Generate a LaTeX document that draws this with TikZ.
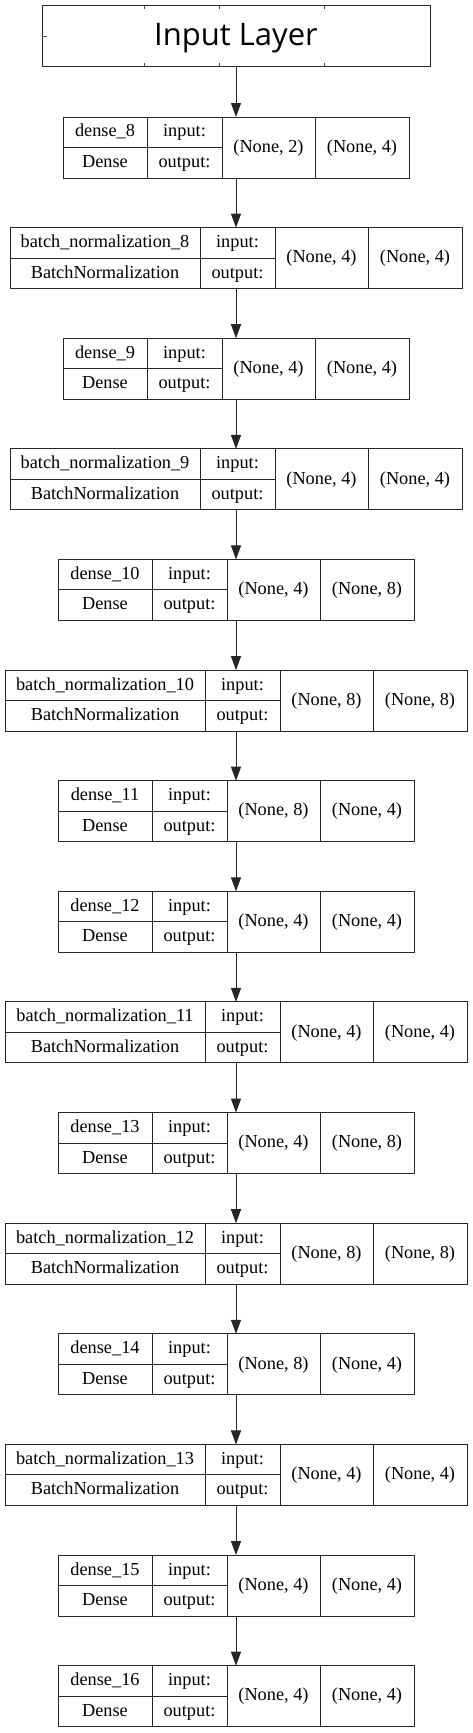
\documentclass[tikz,border=0pt]{standalone}
\usepackage{fontspec}
\setmainfont{Liberation Serif}
\newfontfamily\titlefont{Open Sans}
\usepackage{tikz}
\usetikzlibrary{arrows.meta, positioning}

\begin{document}
\begin{tikzpicture}[
    x=1pt, y=-1pt,
    every node/.style={outer sep=0pt, inner sep=0pt, font=\fontsize{18.3}{20}\selectfont, text height=13pt, text depth=3.6pt},
    layerbox/.style={rectangle, draw=black!85, line width=1pt, minimum height=61pt},
    cellbox/.style={rectangle, draw=black!85, line width=1pt, minimum height=30.5pt},
    shapebox/.style={rectangle, draw=black!85, line width=1pt, minimum height=61pt},
    tickline/.style={draw=black!70, line width=1pt},
    arrow/.style={-{Triangle[length=14pt, width=10pt]}, line width=1pt, color=black!85}
]

    \useasboundingbox (0,0) rectangle (472,1733);

    % --- Input Layer ---
    \node[layerbox, minimum width=388pt, font=\titlefont\fontsize{31}{33}\selectfont, text height=24pt, text depth=6.4pt] (inp) at (236,36.2) {Input Layer};

    % leftover cell marks on the input box
    \draw[tickline] ([xshift=102.6pt]inp.north west) -- ++(0,3);
    \draw[tickline] ([xshift=177.3pt]inp.north west) -- ++(0,3);
    \draw[tickline] ([xshift=282.6pt]inp.north west) -- ++(0,3);
    \draw[tickline] ([xshift=102.6pt]inp.south west) -- ++(0,-4);
    \draw[tickline] ([xshift=177.3pt]inp.south west) -- ++(0,-4);
    \draw[tickline] ([xshift=282.6pt]inp.south west) -- ++(0,-4);
    \draw[tickline] (inp.west) -- ++(5,0);

    % --- Layers ---
    % index / layer name / class / name column width / input size / output size
    \foreach \i/\lname/\cls/\w/\a/\b in {
        0/dense\_8/Dense/84/2/4,
        1/batch\_normalization\_8/BatchNormalization/190/4/4,
        2/dense\_9/Dense/84/4/4,
        3/batch\_normalization\_9/BatchNormalization/190/4/4,
        4/dense\_10/Dense/94/4/8,
        5/batch\_normalization\_10/BatchNormalization/200/8/8,
        6/dense\_11/Dense/94/8/4,
        7/dense\_12/Dense/94/4/4,
        8/batch\_normalization\_11/BatchNormalization/200/4/4,
        9/dense\_13/Dense/94/4/8,
        10/batch\_normalization\_12/BatchNormalization/200/8/8,
        11/dense\_14/Dense/94/8/4,
        12/batch\_normalization\_13/BatchNormalization/200/4/4,
        13/dense\_15/Dense/94/4/4,
        14/dense\_16/Dense/94/4/4}
    {
        \pgfmathsetmacro\yc{147.5+110.62*\i}
        \node[layerbox, minimum width=\w+262] (L\i) at (236,\yc) {};
        \node[cellbox, minimum width=\w, anchor=north west] (N\i) at (L\i.north west) {\lname};
        \node[cellbox, minimum width=\w, below=0pt of N\i] (C\i) {\cls};
        \node[cellbox, minimum width=75pt, right=0pt of N\i] (I\i) {input:};
        \node[cellbox, minimum width=75pt, right=0pt of C\i] (O\i) {output:};
        \node[shapebox, minimum width=93pt, anchor=north west] (A\i) at (I\i.north east) {(None, \a)};
        \node[shapebox, minimum width=94pt, right=0pt of A\i] (B\i) {(None, \b)};
    }

    % --- Flow Arrows ---
    \draw[arrow] (inp) -- (L0);
    \foreach \i [count=\j from 0] in {1,...,14}
        \draw[arrow] (L\j) -- (L\i);

\end{tikzpicture}
\end{document}
